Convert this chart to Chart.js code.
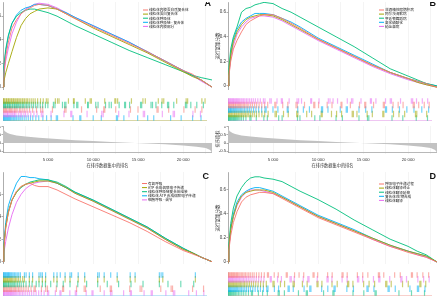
<!DOCTYPE html>
<html><head><meta charset="utf-8">
<script src="https://cdn.jsdelivr.net/npm/chart.js"></script>
<style>
html,body{margin:0;padding:0;background:#fff}
body{width:437px;height:302px;overflow:hidden;position:relative}
canvas{position:absolute}
</style></head><body>
<script>
// ---------- shared x positions (rank, thousands of genes) ----------
const xMax = 23.2;
const esX = [0,0.1,0.3,0.6,1,1.5,2,2.5,3,3.5,4,5,6,7,8,10,12,14,16,18,20,21,22,23.2];
const gridVals = [2.5,5,7.5,10,12.5,15,17.5,20,22.5];
const xTickVals = [5,10,15,20];
const xTickLabels = ['5 000','10 000','15 000','20 000'];
const esTicks = [0,0.2,0.4,0.6];
const mTicks = [-0.5,0,0.5,1];
const mTickLabels = ['-0.5','0','0.5','1'];

// ---------- ranked list metric (shared) ----------
const mX = [0,0.05,0.2,0.5,0.8,1.5,2.5,4,6,8,10,12,14,16,18,20,21.5,22.5,23,23.2];
const mY = [1.0,0.85,0.72,0.62,0.56,0.47,0.40,0.33,0.25,0.18,0.12,0.07,0.02,-0.03,-0.08,-0.15,-0.22,-0.30,-0.42,-0.60];

// ---------- Panel A ----------
const namesA = ['线粒体内膜蛋白质复合体','线粒体蛋白复合体','线粒体呼吸体','线粒体呼吸链 - 复合体','线粒体内膜部分'];
const aSalmon  = [0,.12,.26,.38,.50,.57,.62,.65,.67,.69,.70,.69,.66,.62,.58,.51,.44,.37,.30,.22,.14,.11,.06,0];
const aOlive   = [0,.05,.12,.20,.30,.42,.52,.58,.62,.64,.66,.67,.66,.62,.58,.50,.43,.36,.29,.21,.13,.09,.06,0];
const aGreen   = [0,.18,.32,.44,.54,.60,.63,.65,.66,.66,.65,.63,.60,.56,.52,.45,.38,.31,.25,.19,.13,.10,.08,.06];
const aBlue    = [0,.16,.30,.43,.54,.61,.65,.67,.68,.70,.70,.69,.66,.63,.59,.52,.45,.38,.30,.22,.14,.10,.06,0];
const aMagenta = [0,.10,.22,.33,.45,.55,.62,.66,.68,.70,.71,.70,.67,.63,.59,.52,.45,.38,.30,.22,.14,.10,.05,0];
const aRugOlive = [0.03,0.12,0.22,0.37,0.44,0.58,0.66,0.79,0.93,1.02,1.17,1.26,1.41,1.57,1.68,1.83,1.97,2.16,2.27,2.44,2.62,2.77,2.98,3.21,3.43,3.66,3.94,4.27,4.58,4.93,5.12,5.96,6.21,6.38,7.45,8.02,8.11,9.37,9.92,10.06,11.58,12.73,12.84,13.05,14.62,15.93,16.2,17.68,18.11,18.3,19.77,20.85,21.02,22.64,23.0];
const aRugGreen = [0.07,0.16,0.27,0.33,0.48,0.55,0.68,0.76,0.88,1.04,1.13,1.29,1.38,1.52,1.63,1.77,1.92,2.04,2.21,2.35,2.52,2.69,2.86,3.04,3.27,3.48,3.72,3.96,4.24,4.51,4.83,5.11,5.74,5.92,6.77,7.02,7.16,8.07,8.39,8.52,9.63,9.71,10.56,10.82,11.67,12.08,12.33,13.22,13.84,13.95,14.41,15.66,15.79,16.85,17.02,17.41,18.07,18.73,18.86,19.44,20.77,20.92,21.38,22.06,22.81];
const aRugSalmon = [0.04,0.18,0.29,0.41,0.57,0.72,0.84,0.97,1.13,1.31,1.46,1.61,1.86,2.03,2.26,2.48,2.73,3.02,3.37,3.81,4.29,4.52,5.63,7.02,7.17,8.94,10.66,11.47,11.59,12.83,14.51,15.37,17.53,17.66,18.86,20.59,21.87,22.64];
const aRugMagenta = [0.09,0.21,0.33,0.46,0.53,0.67,0.81,0.94,1.08,1.24,1.33,1.48,1.74,1.96,2.13,2.38,2.57,2.84,3.16,3.52,3.87,4.36,4.54,5.47,6.94,7.71,7.83,9.57,11.24,11.41,13.17,14.34,15.97,16.12,18.14,19.37,19.52,21.62,22.48];
const aRugBlue = [0.02,0.10,0.18,0.27,0.36,0.44,0.53,0.62,0.73,0.82,0.91,1.03,1.16,1.27,1.39,1.54,1.71,1.84,2.02,2.19,2.41,2.63,2.88,3.13,3.39,3.74,4.07,4.54,4.96,5.48,6.07,6.21,7.97,8.74,8.86,10.27,11.19,12.91,13.04,13.76,15.33,16.47,17.16,19.08,20.28,21.58,22.54];

// ---------- Panel B ----------
const namesB = ['非酒精性脂肪肝病','阿尔茨海默病','亨廷顿舞蹈病','氧化磷酸化','帕金森病'];
const bSalmon  = [0,.08,.20,.30,.37,.44,.50,.53,.55,.57,.58,.58,.55,.51,.47,.38,.31,.24,.17,.11,.06,.04,.02,-.01];
const bOlive   = [0,.10,.25,.36,.44,.50,.54,.56,.57,.58,.58,.57,.54,.50,.46,.38,.31,.24,.17,.11,.06,.03,.01,-.01];
const bGreen   = [0,.15,.30,.40,.48,.60,.63,.64,.66,.67,.68,.67,.63,.60,.56,.48,.40,.32,.23,.14,.08,.05,.02,0];
const bBlue    = [0,.10,.26,.38,.46,.52,.55,.57,.59,.59,.59,.58,.55,.52,.48,.39,.32,.25,.18,.11,.06,.04,.02,0];
const bMagenta = [0,.09,.22,.33,.42,.48,.52,.55,.56,.57,.57,.56,.53,.49,.45,.37,.30,.23,.16,.10,.05,.03,.01,-.01];
const bRugMagenta = [0.03,0.13,0.22,0.31,0.42,0.52,0.63,0.72,0.86,0.97,1.08,1.21,1.34,1.49,1.62,1.78,1.93,2.11,2.28,2.46,2.67,2.88,3.12,3.39,3.68,4.03,4.21,4.76,4.92,5.58,6.07,6.19,6.96,7.86,8.04,8.37,9.41,9.52,10.36,11.42,11.61,11.96,12.47,13.58,14.06,14.21,15.14,16.21,16.33,16.84,17.93,18.47,18.61,19.64,20.87,21.02,21.46,22.12,22.73];
const bRugSalmon = [0.06,0.17,0.26,0.38,0.49,0.61,0.69,0.83,0.92,1.06,1.19,1.31,1.44,1.58,1.73,1.87,2.04,2.19,2.37,2.58,2.79,3.03,3.26,3.54,3.84,4.17,4.52,5.33,5.46,6.23,6.81,7.74,7.89,8.71,9.76,9.88,10.31,11.29,11.84,12.86,12.97,13.93,14.97,15.56,15.68,16.57,17.68,17.81,18.79,19.37,19.93,21.08,21.21,21.71,22.34,22.9];
const bRugBlue = [0.04,0.11,0.21,0.29,0.37,0.47,0.58,0.67,0.78,0.89,1.01,1.14,1.27,1.41,1.56,1.71,1.88,2.06,2.24,2.43,2.64,2.91,3.18,3.49,3.83,4.21,4.34,5.12,5.68,6.74,6.85,7.94,8.58,9.27,10.64,10.77,11.38,12.78,13.46,13.59,14.91,15.67,16.38,17.92,18.05,18.71,19.52,20.36,21.17,22.06,22.84];
const bRugOlive = [0.08,0.19,0.32,0.43,0.56,0.71,0.81,0.96,1.12,1.24,1.38,1.53,1.69,1.84,2.01,2.18,2.36,2.55,2.76,2.99,3.24,3.53,3.86,4.18,4.57,5.36,5.51,6.32,6.86,7.82,7.95,8.96,9.52,10.61,10.73,11.78,12.36,12.93,14.14,14.27,14.68,15.84,16.43,17.62,17.74,18.84,19.46,20.11,21.34,21.49,22.62];
const bRugGreen = [0.02,0.09,0.17,0.26,0.34,0.43,0.54,0.63,0.74,0.84,0.95,1.07,1.22,1.37,1.54,1.76,2.04,2.49,2.62,3.22,4.08,4.48,5.77,6.16,7.91,8.19,9.88,10.46,12.3,13.02,14.91,15.88,16.03,18.67,19.9,21.43,22.71];

// ---------- Panel C ----------
const namesC = ['有氧呼吸','ATP 合成偶联电子传递','线粒体呼吸链复合体组装','线粒体 ATP 合成偶联电子传递','细胞呼吸 - 调节'];
const cSalmon  = [0,.12,.30,.44,.55,.63,.67,.69,.70,.68,.67,.67,.64,.60,.56,.49,.42,.35,.27,.18,.10,.07,.04,0];
const cOlive   = [0,.13,.30,.44,.55,.62,.67,.69,.70,.71,.72,.72,.70,.66,.61,.54,.46,.38,.30,.20,.11,.08,.04,0];
const cGreen   = [0,.14,.32,.45,.55,.62,.66,.69,.71,.72,.73,.73,.71,.67,.62,.55,.47,.39,.31,.21,.12,.08,.04,0];
const cBlue    = [0,.15,.35,.50,.60,.70,.76,.76,.75,.75,.74,.73,.70,.66,.62,.55,.47,.39,.31,.21,.12,.08,.04,0];
const cMagenta = [0,.08,.18,.30,.42,.53,.60,.65,.68,.70,.71,.72,.70,.66,.61,.54,.46,.38,.30,.20,.11,.08,.04,0];
const cRugBlue = [0.03,0.11,0.19,0.28,0.37,0.46,0.54,0.63,0.71,0.81,0.92,1.03,1.16,1.31,1.46,1.62,1.79,1.98,2.44,2.63,3.0,3.37,4.1,4.3,4.48,4.85,5.78,6.15,6.52,7.07,7.63,7.81,8.56,9.3,10.78,10.96,11.52,12.26,13.0,14.48,15.04,17.8,18.0,18.19,21.9];
const cRugOlive = [0.06,0.14,0.24,0.33,0.44,0.53,0.66,0.77,0.88,0.99,1.12,1.27,1.42,1.58,1.76,1.97,2.24,2.44,3.0,3.37,4.1,4.48,4.85,5.78,6.15,7.07,7.63,8.56,9.3,10.78,11.52,13.0,14.48,15.04,17.8,18.19,21.9];
const cRugGreen = [0.04,0.12,0.21,0.31,0.42,0.56,0.64,0.79,0.91,1.04,1.17,1.32,1.48,1.66,1.86,2.07,2.33,2.62,3.0,3.31,3.78,4.1,4.48,4.83,5.43,6.15,6.86,7.63,8.51,9.52,10.78,11.87,13.16,14.57,15.94,17.8,18.78,20.24,21.71];
const cRugSalmon = [0.02,0.13,0.23,0.36,0.47,0.59,0.73,0.86,0.98,1.14,1.28,1.43,1.59,1.77,1.94,2.14,2.37,2.62,2.88,3.19,3.54,3.68,4.38,4.86,5.06,6.07,6.78,6.9,8.37,9.24,9.4,11.07,12.21,12.35,14.43,15.61,15.8,17.96,19.14,19.3,21.58,22.83];
const cRugMagenta = [0.02,0.08,0.16,0.24,0.33,0.42,0.51,0.61,0.69,0.78,0.87,0.96,1.07,1.18,1.29,1.42,1.56,1.71,1.87,2.03,2.21,2.39,2.59,2.81,3.02,3.26,3.51,3.77,4.06,4.36,4.68,5.06,5.2,5.96,6.48,6.6,7.61,8.23,8.37,9.47,10.13,10.25,11.52,12.24,12.4,13.73,14.49,14.62,16.06,16.87,17.0,18.54,19.39,19.55,21.14,22.02,22.86];

// ---------- Panel D ----------
const namesD = ['呼吸电子传递过程','线粒体翻译终止','线粒体翻译延伸','复合体I生物合成','线粒体翻译'];
const dSalmon  = [0,.10,.22,.33,.42,.50,.54,.56,.57,.58,.58,.57,.53,.49,.45,.37,.31,.25,.19,.13,.08,.06,.04,0];
const dOlive   = [0,.12,.27,.38,.48,.55,.58,.59,.60,.60,.60,.58,.54,.50,.46,.38,.32,.26,.20,.14,.09,.07,.05,0];
const dGreen   = [0,.15,.32,.45,.55,.62,.67,.70,.71,.71,.70,.69,.67,.63,.59,.52,.44,.35,.27,.19,.13,.09,.06,0];
const dBlue    = [0,.12,.28,.40,.50,.56,.59,.61,.62,.62,.61,.59,.55,.51,.47,.39,.33,.27,.20,.14,.09,.07,.05,0];
const dMagenta = [0,.11,.26,.38,.47,.54,.58,.60,.60,.60,.59,.57,.54,.50,.46,.38,.32,.26,.19,.13,.09,.06,.04,0];
const dRugSalmon = [0.04,0.12,0.21,0.32,0.41,0.52,0.64,0.73,0.87,0.98,1.09,1.23,1.37,1.52,1.67,1.83,1.99,2.17,2.36,2.54,2.76,2.97,3.24,3.52,3.81,4.13,4.49,4.61,5.26,5.72,6.63,6.75,7.58,8.09,8.62,9.68,9.8,10.21,11.34,11.86,12.98,13.1,13.57,14.73,15.34,15.92,17.12,17.25,17.73,18.97,19.61,20.88,21.0,21.53,22.18,22.84];
const dRugMagenta = [0.07,0.17,0.27,0.38,0.49,0.58,0.69,0.81,0.93,1.04,1.17,1.31,1.46,1.61,1.77,1.94,2.12,2.31,2.51,2.73,2.96,3.22,3.49,3.78,4.09,4.81,4.93,5.64,6.08,7.06,7.2,7.54,8.57,9.09,9.22,10.16,11.27,11.4,11.83,12.99,13.56,14.74,14.88,15.33,16.56,17.16,17.29,18.41,19.67,19.8,20.32,21.61,22.27,22.9];
const dRugOlive = [0.03,0.14,0.24,0.35,0.46,0.57,0.67,0.79,0.91,1.02,1.15,1.28,1.42,1.57,1.73,1.89,2.07,2.26,2.46,2.68,2.91,3.16,3.43,3.71,4.02,4.36,5.12,5.25,5.97,6.44,7.41,7.55,8.47,9.01,10.13,10.25,10.69,11.84,12.43,13.61,13.74,14.22,15.44,16.06,16.69,17.95,18.08,18.58,19.87,20.52,21.84,21.96,22.51];
const dRugBlue = [0.06,0.16,0.26,0.36,0.47,0.59,0.71,0.83,0.96,1.09,1.24,1.39,1.55,1.72,1.91,2.11,2.33,2.56,2.82,3.09,3.38,3.69,4.03,4.41,4.55,5.28,5.76,6.84,6.97,7.43,8.66,9.31,9.44,10.66,11.36,12.07,12.2,13.53,14.28,15.82,15.95,16.61,18.22,18.35,19.04,20.71,21.56,21.7,22.42];
const dRugGreen = [0.02,0.10,0.19,0.28,0.38,0.49,0.61,0.72,0.86,1.01,1.18,1.36,1.57,1.79,2.04,2.33,2.66,2.79,3.46,3.94,4.48,5.71,5.84,6.42,8.02,8.91,9.04,10.88,11.94,12.07,14.23,15.46,16.74,16.87,19.46,20.89,22.37];

// ---------- text ----------
const esTitle = '运行富集分数';
const mTitle = '排序指标';
const xTitle = '在排序数据集中的排名';

// ---------- styles ----------
const SAL='#F8766D', OLI='#A3A500', GRN='#00BF7D', BLU='#00B0F6', MAG='#E76BF3';
const SALa='rgba(248,118,109,0.55)', OLIa='rgba(163,165,0,0.55)', GRNa='rgba(0,191,125,0.55)', BLUa='rgba(0,176,246,0.55)', MAGa='rgba(231,107,243,0.55)';
const FONT = "'Liberation Sans','Noto Sans CJK SC',sans-serif";
const CJK = "'Noto Sans CJK SC','Liberation Sans',sans-serif";
Chart.defaults.font.family = FONT;
Chart.defaults.color = '#333';

const panels = [
 {letter:'A', axisX:3, right:212, esTop:2, esBottom:90, esMin:-0.025, esMax:0.72, rugTop:93, rugBottom:125, metric:true,
  series:[[aSalmon,SAL],[aOlive,OLI],[aGreen,GRN],[aBlue,BLU],[aMagenta,MAG]], names:namesA,
  rugs:[[aRugOlive,OLIa],[aRugGreen,GRNa],[aRugSalmon,SALa],[aRugMagenta,MAGa],[aRugBlue,BLUa]], rugLine:'#d8d6a6',
  legX:143, legY:10, letX:211, letY:-1},
 {letter:'B', axisX:228, right:437, esTop:2, esBottom:90, esMin:-0.033, esMax:0.683, rugTop:93, rugBottom:125, metric:true,
  series:[[bSalmon,SAL],[bOlive,OLI],[bGreen,GRN],[bBlue,BLU],[bMagenta,MAG]], names:namesB,
  rugs:[[bRugMagenta,MAGa],[bRugSalmon,SALa],[bRugBlue,BLUa],[bRugOlive,OLIa],[bRugGreen,GRNa]], rugLine:'#efc6f2',
  legX:379, legY:10, letX:436, letY:-1},
 {letter:'C', axisX:3, right:212, esTop:172, esBottom:264, esMin:-0.0205, esMax:0.80, rugTop:267, rugBottom:300, metric:false,
  series:[[cSalmon,SAL],[cOlive,OLI],[cGreen,GRN],[cBlue,BLU],[cMagenta,MAG]], names:namesC,
  rugs:[[cRugBlue,BLUa],[cRugOlive,OLIa],[cRugGreen,GRNa],[cRugSalmon,SALa],[cRugMagenta,MAGa]], rugLine:'#bfe6f7',
  legX:142, legY:183.5, letX:209, letY:172},
 {letter:'D', axisX:228, right:437, esTop:172, esBottom:264, esMin:-0.0167, esMax:0.75, rugTop:267, rugBottom:300, metric:false,
  series:[[dSalmon,SAL],[dOlive,OLI],[dGreen,GRN],[dBlue,BLU],[dMagenta,MAG]], names:namesD,
  rugs:[[dRugSalmon,SALa],[dRugMagenta,MAGa],[dRugOlive,OLIa],[dRugBlue,BLUa],[dRugGreen,GRNa]], rugLine:'#f8d0cc',
  legX:379, legY:184, letX:436, letY:172}
];

const W = 13;
const deco = {
  id:'deco',
  afterDraw(chart, args, o){
    if(!o || !o.items) return;
    const ctx = chart.ctx; ctx.save();
    o.items.forEach((it,i)=>{
      const y = o.y + i*4.1;
      ctx.strokeStyle = it.color; ctx.lineWidth = 1;
      ctx.beginPath(); ctx.moveTo(o.x, y); ctx.lineTo(o.x+5, y); ctx.stroke();
      ctx.fillStyle = '#222'; ctx.font = "3.6px " + CJK; ctx.textBaseline='middle'; ctx.textAlign='left';
      ctx.fillText(it.text, o.x+6, y);
    });
    ctx.fillStyle = '#111'; ctx.font = "bold 9px " + FONT; ctx.textAlign='right'; ctx.textBaseline='top';
    ctx.fillText(o.letter, o.lx, o.ly);
    ctx.restore();
  }
};
Chart.register(deco);

function addCanvas(left, top, w, h){
  const c = document.createElement('canvas');
  c.width = w; c.height = h;
  c.style.left = left+'px'; c.style.top = top+'px';
  c.style.width = w+'px'; c.style.height = h+'px';
  document.body.appendChild(c);
  return c;
}
const base = {responsive:false, animation:false, events:[], layout:{padding:0}};

function esChart(p){
  const left = p.axisX - W, w = p.right - left, h = p.esBottom - p.esTop;
  const cv = addCanvas(left, p.esTop, w, h);
  new Chart(cv, {
    type:'line',
    data:{datasets:p.series.map(([arr,col])=>({data:arr.map((v,j)=>({x:esX[j], y:v})), borderColor:col, borderWidth:0.9, pointRadius:0, tension:0, fill:false}))},
    options:Object.assign({}, base, {
      plugins:{legend:{display:false}, tooltip:{enabled:false},
        deco:{items:p.series.map(([a,col],i)=>({color:col, text:p.names[i]})), x:p.legX-left, y:p.legY-p.esTop, letter:p.letter, lx:p.letX-left, ly:p.letY-p.esTop}},
      scales:{
        x:{type:'linear', min:0, max:xMax,
           afterBuildTicks:s=>{s.ticks = gridVals.map(v=>({value:v}));},
           afterFit:s=>{s.height=0; s.paddingLeft=0; s.paddingRight=0;},
           ticks:{display:false}, grid:{color:'#ededed', lineWidth:0.6, drawTicks:false}, border:{display:false}},
        y:{min:p.esMin, max:p.esMax,
           afterBuildTicks:s=>{s.ticks = esTicks.filter(v=>v<=p.esMax).map(v=>({value:v}));},
           afterFit:s=>{s.width=W; s.paddingTop=0; s.paddingBottom=0;},
           ticks:{font:{size:4.5}, padding:0.5, color:'#333'},
           grid:{display:true, drawOnChartArea:false, tickLength:1.5, color:'#777', lineWidth:0.6},
           border:{display:true, color:'#777', width:0.6},
           title:{display:true, text:esTitle, font:{size:4.5, family:CJK}, padding:0, color:'#333'}}
      }
    })
  });
}

function rugChart(p){
  const left = p.axisX - W, w = p.right - left, h = p.rugBottom - p.rugTop + 1;
  const cv = addCanvas(left, p.rugTop, w, h);
  const rowH = (p.rugBottom - p.rugTop)/5;
  new Chart(cv, {
    type:'scatter',
    data:{datasets:p.rugs.map(([pos,col],i)=>({data:pos.map(x=>({x, y:i+0.5})), pointStyle:'line', pointRadius:rowH/2, pointRotation:90,
      pointBorderColor:col, borderColor:col, pointBorderWidth:1.2, borderWidth:1.2, showLine:false}))},
    options:Object.assign({}, base, {
      plugins:{legend:{display:false}, tooltip:{enabled:false}},
      scales:{
        x:{type:'linear', min:0, max:xMax, ticks:{display:false}, grid:{display:false},
           border:{display:true, color:p.rugLine, width:1},
           afterFit:s=>{s.height=1; s.paddingLeft=0; s.paddingRight=0;}},
        y:{min:0, max:5, reverse:true, ticks:{display:false}, grid:{display:false},
           border:{display:true, color:'#bbb', width:0.6},
           afterFit:s=>{s.width=W; s.paddingTop=0; s.paddingBottom=0;}}
      }
    })
  });
}

function metricChart(p){
  const top = 126, plotH = 26, xh = 16;
  const left = p.axisX - W, w = p.right - left, h = plotH + xh;
  const cv = addCanvas(left, top, w, h);
  new Chart(cv, {
    type:'line',
    data:{datasets:[{data:mX.map((x,i)=>({x, y:mY[i]})), fill:'origin', backgroundColor:'#c2c2c2', borderWidth:0, pointRadius:0, tension:0}]},
    options:Object.assign({}, base, {
      plugins:{legend:{display:false}, tooltip:{enabled:false}},
      scales:{
        x:{type:'linear', min:0, max:xMax,
           afterBuildTicks:s=>{s.ticks = gridVals.map(v=>({value:v}));},
           ticks:{callback:(v)=>{const i = xTickVals.indexOf(v); return i<0 ? '' : xTickLabels[i];}, font:{size:4.2}, padding:3, maxRotation:0, autoSkip:false, color:'#333'},
           grid:{color:'#ededed', lineWidth:0.6, tickLength:2},
           border:{display:true, color:'#888', width:0.6},
           title:{display:true, text:xTitle, font:{size:4.2, family:CJK}, padding:{top:0,bottom:0}, color:'#333'},
           afterFit:s=>{s.height=xh; s.paddingLeft=0; s.paddingRight=0;}},
        y:{min:-0.55, max:1.05,
           afterBuildTicks:s=>{s.ticks = mTicks.map(v=>({value:v}));},
           ticks:{callback:(v)=>{const i = mTicks.indexOf(v); return i<0 ? '' : mTickLabels[i];}, font:{size:4.2}, padding:0.5, color:'#333'},
           grid:{display:true, drawOnChartArea:false, tickLength:1.5, color:'#777', lineWidth:0.6},
           border:{display:true, color:'#777', width:0.6},
           title:{display:true, text:mTitle, font:{size:4.2, family:CJK}, padding:0, color:'#333'},
           afterFit:s=>{s.width=W; s.paddingTop=0; s.paddingBottom=0;}}
      }
    })
  });
}

panels.forEach(p=>{
  esChart(p);
  rugChart(p);
  if(p.metric) metricChart(p);
});
</script>
</body></html>
